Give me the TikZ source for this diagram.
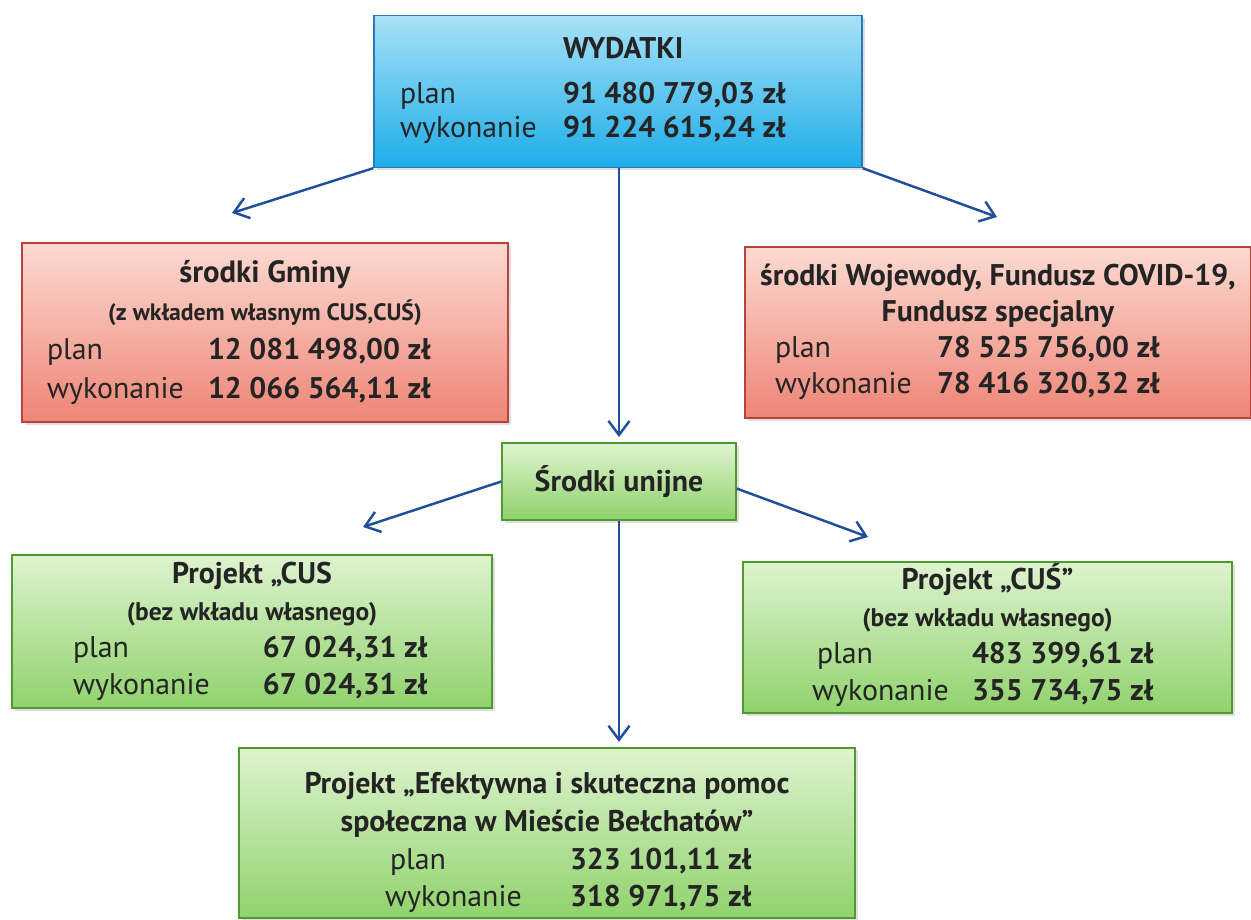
\documentclass[tikz,border=0pt]{standalone}
\usepackage{fontspec}
\setmainfont{PT Sans}
\usepackage{array}
\usetikzlibrary{arrows.meta,shadows}

\definecolor{niebieskiG}{HTML}{A8E1F7}
\definecolor{niebieskiD}{HTML}{1CADE8}
\definecolor{niebieskiR}{HTML}{2C78B4}
\definecolor{czerwonyG}{HTML}{FCDAD2}
\definecolor{czerwonyD}{HTML}{EE8576}
\definecolor{czerwonyR}{HTML}{B8433C}
\definecolor{zielonyG}{HTML}{DEF3CF}
\definecolor{zielonyD}{HTML}{90D26C}
\definecolor{zielonyR}{HTML}{4E9A2E}
\definecolor{strzalka}{HTML}{1F4E9C}
\definecolor{tekst}{HTML}{242424}

\tikzset{
  ramka/.style={draw, line width=0.8pt, inner sep=0pt, text=tekst,
    drop shadow={shadow xshift=1.5pt, shadow yshift=-1.5pt, opacity=0.25},
    font=\fontsize{17}{21}\selectfont},
  niebieska/.style={ramka, draw=niebieskiR, top color=niebieskiG, bottom color=niebieskiD},
  czerwona/.style={ramka, draw=czerwonyR, top color=czerwonyG, bottom color=czerwonyD},
  zielona/.style={ramka, draw=zielonyR, top color=zielonyG, bottom color=zielonyD},
  strz/.style={-{Straight Barb[length=8pt,width=12pt]}, draw=strzalka, line width=1.4pt}
}

\begin{document}
\begin{tikzpicture}
  \useasboundingbox (0,0) rectangle (25.02,18.38);

  % wydatki ogolem
  \node[niebieska, minimum width=9.76cm, minimum height=3.04cm,
        font=\fontsize{17}{19.5}\selectfont] (wydatki) at (12.36,16.55)
    {\begin{tabular}{@{\hspace{0.52cm}}p{3.26cm}@{}>{\bfseries}p{5.98cm}@{}}
      & WYDATKI\\[6pt]
      plan & 91 480 779,03 zł\\
      wykonanie & 91 224 615,24 zł
    \end{tabular}};

  % zrodla finansowania
  \node[czerwona, minimum width=9.72cm, minimum height=3.58cm,
        font=\fontsize{17}{22}\selectfont] (gmina) at (5.30,11.73)
    {\begin{tabular}{@{\hspace{0.5cm}}p{3.22cm}@{}>{\bfseries}p{6.0cm}@{}}
      \multicolumn{2}{@{}c@{}}{\fontsize{17.5}{22}\selectfont\bfseries środki Gminy}\\
      \multicolumn{2}{@{}c@{}}{\fontsize{13.5}{16}\selectfont\bfseries (z wkładem własnym CUS,CUŚ)}\\
      plan & 12 081 498,00 zł\\
      wykonanie & 12 066 564,11 zł
    \end{tabular}};

  \node[czerwona, minimum width=10.12cm, minimum height=3.42cm,
        font=\fontsize{17}{20.5}\selectfont] (wojewoda) at (19.96,11.73)
    {\begin{tabular}{@{\hspace{0.6cm}}p{3.24cm}@{}>{\bfseries}p{6.28cm}@{}}
      \multicolumn{2}{@{}c@{}}{\textbf{środki Wojewody, Fundusz COVID-19,}}\\
      \multicolumn{2}{@{}c@{}}{\textbf{Fundusz specjalny}}\\
      plan & 78 525 756,00 zł\\
      wykonanie & 78 416 320,32 zł
    \end{tabular}};

  \node[zielona, minimum width=4.68cm, minimum height=1.54cm] (unijne) at (12.38,8.75)
    {\textbf{Środki unijne}};

  % projekty
  \node[zielona, minimum width=9.6cm, minimum height=3.06cm] (cus) at (5.04,5.75)
    {\begin{tabular}{@{\hspace{1.22cm}}p{3.8cm}@{}>{\bfseries}p{4.58cm}@{}}
      \multicolumn{2}{@{}c@{}}{\textbf{Projekt „CUS}}\\
      \multicolumn{2}{@{}c@{}}{\fontsize{14.5}{17}\selectfont\bfseries (bez wkładu własnego)}\\
      plan & 67 024,31 zł\\
      wykonanie & 67 024,31 zł
    \end{tabular}};

  \node[zielona, minimum width=9.78cm, minimum height=3.02cm] (cuss) at (19.75,5.63)
    {\begin{tabular}{@{\hspace{1.38cm}}p{3.2cm}@{}>{\bfseries}p{5.2cm}@{}}
      \multicolumn{2}{@{}c@{}}{\textbf{Projekt „CUŚ”}}\\
      \multicolumn{2}{@{}c@{}}{\fontsize{14.5}{17}\selectfont\bfseries (bez wkładu własnego)}\\
      \hspace{0.1cm}plan & 483 399,61 zł\\
      wykonanie & 355 734,75 zł
    \end{tabular}};

  \node[zielona, minimum width=12.32cm, minimum height=3.32cm,
        font=\fontsize{17}{21.5}\selectfont] (projekt) at (10.94,1.72)
    {\begin{tabular}{@{\hspace{2.92cm}}p{3.7cm}@{}>{\bfseries}p{5.7cm}@{}}
      \multicolumn{2}{@{}c@{}}{\rule{0pt}{26pt}\textbf{Projekt „Efektywna i skuteczna pomoc}}\\
      \multicolumn{2}{@{}c@{}}{\textbf{społeczna w Mieście Bełchatów”}}\\
      \hspace{0.1cm}plan & 323 101,11 zł\\
      wykonanie & 318 971,75 zł
    \end{tabular}};

  % strzalki
  \coordinate (g1) at (4.64,14.12);
  \coordinate (g2) at (19.94,14.04);
  \coordinate (u1) at (7.26,7.84);
  \coordinate (u2) at (17.36,7.64);

  \draw[strz] (wydatki.south west) -- (g1);
  \draw[strz] (wydatki.south east) -- (g2);
  \draw[strz, shorten >=3pt] (wydatki.south -| unijne.north) -- (unijne.north);
  \draw[strz] (unijne.west) -- (u1);
  \draw[strz] ([yshift=-4pt]unijne.east) -- (u2);
  \draw[strz, shorten >=3pt] (unijne.south) -- (unijne.south |- projekt.north);
\end{tikzpicture}
\end{document}
